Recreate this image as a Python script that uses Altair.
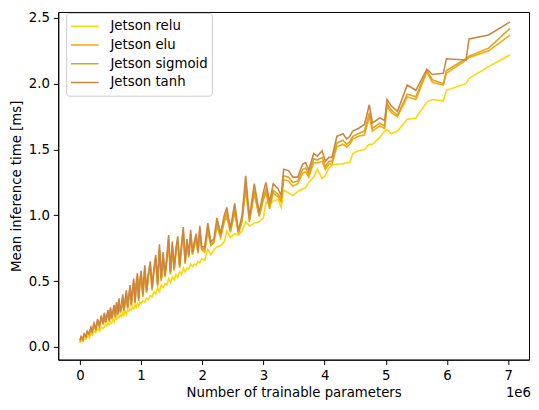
import altair as alt
import pandas as pd

# Number of trainable parameters (in units of 1e6)
params_millions = [
    0.00, 0.02, 0.05, 0.07, 0.10, 0.12, 0.15, 0.18, 0.20, 0.23, 0.26, 0.29, 0.32, 0.35, 0.38,
    0.40, 0.42, 0.44, 0.46, 0.48, 0.50, 0.52, 0.54, 0.56, 0.58, 0.60, 0.62, 0.64, 0.66, 0.68,
    0.70, 0.72, 0.74, 0.76, 0.78, 0.80, 0.82, 0.84, 0.86, 0.88, 0.90, 0.92, 0.94, 0.96, 0.98,
    1.00, 1.03, 1.06, 1.09, 1.12, 1.15, 1.18, 1.21, 1.24, 1.27, 1.30, 1.33, 1.36, 1.39, 1.42, 1.45, 1.48,
    1.51, 1.54, 1.57, 1.60, 1.63, 1.66, 1.69, 1.72, 1.75, 1.78, 1.81, 1.84, 1.87, 1.90, 1.93, 1.96, 1.99,
    2.04, 2.09, 2.14, 2.19, 2.24, 2.30, 2.36, 2.40, 2.46, 2.53, 2.59, 2.65, 2.71, 2.77, 2.85, 2.93, 3.00,
    3.04, 3.10, 3.16, 3.24, 3.29, 3.33, 3.41, 3.48, 3.56, 3.64, 3.69, 3.74, 3.82, 3.88, 3.96, 4.01, 4.07,
    4.12, 4.20, 4.30, 4.36, 4.41, 4.46, 4.55, 4.65, 4.73, 4.78, 4.90,
    4.98, 5.02, 5.09, 5.19, 5.35, 5.49, 5.67, 5.76, 5.94, 5.99, 6.31, 6.36, 6.68, 7.03,
]

relu_ms = [
    0.03, 0.05, 0.04, 0.06, 0.06, 0.08, 0.07, 0.10, 0.09, 0.12, 0.11, 0.14, 0.12, 0.15, 0.14,
    0.15, 0.17, 0.16, 0.18, 0.17, 0.19, 0.18, 0.21, 0.19, 0.22, 0.21, 0.23, 0.22, 0.24, 0.23,
    0.26, 0.24, 0.27, 0.25, 0.28, 0.27, 0.29, 0.28, 0.30, 0.29, 0.32, 0.30, 0.33, 0.31, 0.34,
    0.33, 0.35, 0.34, 0.37, 0.36, 0.39, 0.38, 0.42, 0.40, 0.45, 0.42, 0.47, 0.45, 0.48, 0.47, 0.52, 0.49,
    0.53, 0.51, 0.55, 0.53, 0.57, 0.55, 0.60, 0.57, 0.60, 0.59, 0.63, 0.61, 0.63, 0.62, 0.65, 0.64, 0.67,
    0.66, 0.74, 0.70, 0.74, 0.76, 0.77, 0.80, 0.88, 0.83, 0.86, 0.85, 0.88, 0.95, 0.92, 0.94, 0.95, 0.98,
    1.10, 1.08, 1.11, 1.12, 1.06, 1.19, 1.17, 1.15, 1.18, 1.20, 1.21, 1.25, 1.29, 1.35, 1.28, 1.30, 1.36,
    1.38, 1.39, 1.39, 1.40, 1.40, 1.47, 1.49, 1.50, 1.54, 1.54, 1.59,
    1.64, 1.65, 1.62, 1.64, 1.73, 1.74, 1.86, 1.88, 1.87, 1.95, 2.00, 2.04, 2.13, 2.22,
]

elu_ms = [
    0.04, 0.07, 0.05, 0.09, 0.07, 0.11, 0.09, 0.13, 0.11, 0.16, 0.13, 0.19, 0.15, 0.22, 0.17,
    0.24, 0.18, 0.22, 0.26, 0.19, 0.28, 0.21, 0.25, 0.30, 0.22, 0.32, 0.24, 0.34, 0.26, 0.29,
    0.37, 0.27, 0.34, 0.40, 0.29, 0.37, 0.44, 0.31, 0.41, 0.48, 0.33, 0.45, 0.52, 0.35, 0.47,
    0.55, 0.38, 0.58, 0.41, 0.53, 0.61, 0.43, 0.57, 0.66, 0.46, 0.73, 0.50, 0.68, 0.53, 0.64, 0.80, 0.55,
    0.75, 0.58, 0.71, 0.79, 0.60, 0.74, 0.86, 0.63, 0.78, 0.68, 0.84, 0.70, 0.76, 0.82, 0.71, 0.87, 0.74,
    0.72, 0.88, 0.77, 0.79, 0.92, 0.83, 0.95, 0.99, 0.87, 1.02, 0.86, 0.95, 1.20, 0.95, 1.16, 0.99, 1.12,
    1.17, 1.05, 1.17, 1.14, 1.10, 1.27, 1.26, 1.22, 1.24, 1.32, 1.33, 1.29, 1.40, 1.40, 1.41, 1.35, 1.39,
    1.39, 1.52, 1.54, 1.52, 1.54, 1.58, 1.60, 1.61, 1.75, 1.64, 1.68,
    1.66, 1.83, 1.78, 1.75, 1.90, 1.88, 2.09, 2.01, 1.99, 2.08, 2.18, 2.20, 2.25, 2.37,
]

sigmoid_ms = [
    0.05, 0.07, 0.06, 0.09, 0.08, 0.11, 0.10, 0.14, 0.12, 0.17, 0.14, 0.20, 0.16, 0.23, 0.18,
    0.25, 0.19, 0.23, 0.27, 0.20, 0.29, 0.22, 0.26, 0.31, 0.23, 0.33, 0.25, 0.35, 0.27, 0.30,
    0.38, 0.28, 0.35, 0.41, 0.30, 0.38, 0.45, 0.32, 0.42, 0.50, 0.34, 0.46, 0.54, 0.36, 0.48,
    0.56, 0.39, 0.60, 0.42, 0.55, 0.63, 0.44, 0.58, 0.68, 0.47, 0.75, 0.51, 0.70, 0.54, 0.66, 0.82, 0.56,
    0.77, 0.59, 0.73, 0.81, 0.61, 0.76, 0.88, 0.64, 0.80, 0.69, 0.86, 0.71, 0.78, 0.84, 0.72, 0.89, 0.75,
    0.74, 0.90, 0.78, 0.80, 0.94, 0.84, 0.97, 1.02, 0.88, 1.05, 0.87, 0.97, 1.24, 0.96, 1.19, 1.00, 1.14,
    1.20, 1.07, 1.19, 1.16, 1.12, 1.30, 1.29, 1.25, 1.26, 1.35, 1.36, 1.31, 1.43, 1.42, 1.44, 1.37, 1.41,
    1.41, 1.55, 1.57, 1.54, 1.56, 1.60, 1.62, 1.64, 1.78, 1.66, 1.70,
    1.68, 1.85, 1.80, 1.76, 1.92, 1.90, 2.10, 2.03, 2.00, 2.10, 2.19, 2.21, 2.27, 2.42,
]

tanh_ms = [
    0.05, 0.08, 0.06, 0.10, 0.08, 0.12, 0.10, 0.15, 0.12, 0.18, 0.14, 0.21, 0.16, 0.24, 0.18,
    0.26, 0.19, 0.24, 0.28, 0.20, 0.30, 0.22, 0.27, 0.32, 0.23, 0.34, 0.25, 0.37, 0.27, 0.31,
    0.40, 0.28, 0.36, 0.43, 0.30, 0.39, 0.47, 0.32, 0.44, 0.52, 0.34, 0.48, 0.56, 0.36, 0.50,
    0.58, 0.40, 0.62, 0.43, 0.56, 0.65, 0.45, 0.60, 0.70, 0.48, 0.78, 0.52, 0.72, 0.55, 0.68, 0.85, 0.57,
    0.80, 0.60, 0.75, 0.84, 0.62, 0.78, 0.91, 0.65, 0.82, 0.70, 0.89, 0.72, 0.80, 0.86, 0.73, 0.92, 0.76,
    0.76, 0.94, 0.80, 0.82, 0.98, 0.86, 1.00, 1.06, 0.90, 1.09, 0.88, 1.00, 1.30, 0.98, 1.24, 1.02, 1.18,
    1.25, 1.10, 1.24, 1.20, 1.15, 1.35, 1.34, 1.29, 1.29, 1.39, 1.40, 1.34, 1.47, 1.45, 1.49, 1.41, 1.44,
    1.44, 1.60, 1.62, 1.58, 1.60, 1.64, 1.66, 1.69, 1.84, 1.70, 1.74,
    1.72, 1.88, 1.83, 1.79, 1.99, 1.95, 2.11, 2.07, 2.08, 2.19, 2.18, 2.34, 2.37, 2.47,
]

series_names = ["Jetson relu", "Jetson elu", "Jetson sigmoid", "Jetson tanh"]
series_colors = ["#FFD700", "#FFA500", "#DAA520", "#CD853F"]
series_values = [relu_ms, elu_ms, sigmoid_ms, tanh_ms]

rows = []
for name, vals in zip(series_names, series_values):
    assert len(vals) == len(params_millions), (name, len(vals), len(params_millions))
    for x, y in zip(params_millions, vals):
        rows.append({"params": x, "time": y, "series": name})
df = pd.DataFrame(rows)

x_ticks = [0, 1, 2, 3, 4, 5, 6, 7]
y_ticks = [0.0, 0.5, 1.0, 1.5, 2.0, 2.5]

W, H = 478, 353
FONT = "DejaVu Sans"
FS = 13.5

lines = alt.Chart(df).mark_line(strokeWidth=1.6).encode(
    x=alt.X(
        "params:Q",
        scale=alt.Scale(domain=[-0.354, 7.34], nice=False, zero=False),
        axis=alt.Axis(
            title="Number of trainable parameters",
            values=x_ticks,
            format="d",
            grid=False,
            tickSize=5,
            labelPadding=4,
            titlePadding=4,
        ),
    ),
    y=alt.Y(
        "time:Q",
        scale=alt.Scale(domain=[-0.097, 2.545], nice=False, zero=False),
        axis=alt.Axis(
            title="Mean inference time [ms]",
            values=y_ticks,
            format=".1f",
            grid=False,
            tickSize=5,
            labelPadding=4,
            titlePadding=5,
        ),
    ),
    color=alt.Color(
        "series:N",
        scale=alt.Scale(domain=series_names, range=series_colors),
        sort=series_names,
        legend=alt.Legend(
            title=None,
            orient="none",
            legendX=8,
            legendY=1,
            symbolType="stroke",
            symbolSize=784,
            symbolStrokeWidth=1.6,
            labelFontSize=FS,
            labelFont=FONT,
            labelColor="black",
            labelOffset=11,
            padding=4,
            clipHeight=19,
            rowPadding=0,
            fillColor="white",
            strokeColor="#cccccc",
            cornerRadius=3,
        ),
    ),
    detail="series:N",
)

offset_text = alt.Chart(pd.DataFrame({"t": ["1e6"]})).mark_text(
    align="right", baseline="middle", font=FONT, fontSize=FS, color="black"
).encode(
    x=alt.value(W + 2),
    y=alt.value(H + 34),
    text="t:N",
)

chart = (
    alt.layer(lines, offset_text)
    .properties(
        width=W,
        height=H,
        autosize=alt.AutoSizeParams(type="none"),
        padding={"left": 51, "top": 1, "right": 2, "bottom": 45},
    )
    .configure_view(stroke="black", strokeWidth=1)
    .configure_axis(
        domainColor="black",
        tickColor="black",
        labelColor="black",
        titleColor="black",
        labelFont=FONT,
        titleFont=FONT,
        labelFontSize=FS,
        titleFontSize=FS,
        titleFontWeight="normal",
        domainWidth=1,
        tickWidth=1,
    )
)

chart.save("out.html", embed_options={"renderer": "svg", "actions": False})
